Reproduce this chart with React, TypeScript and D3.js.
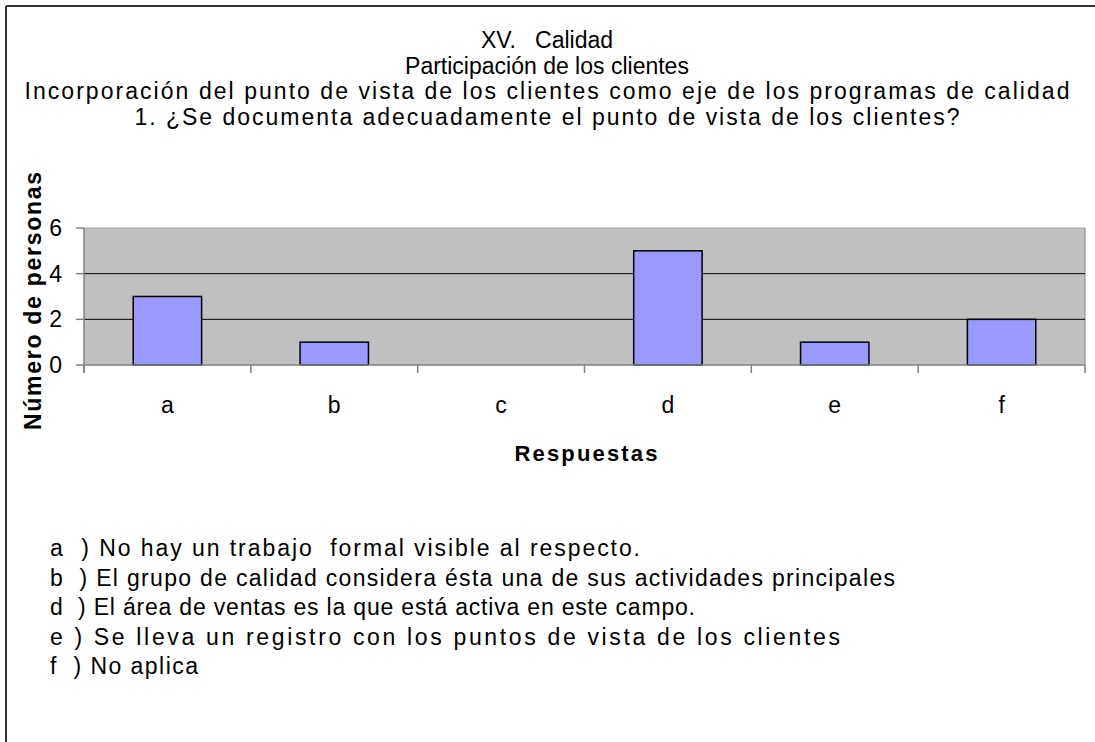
import React, { useRef, useEffect } from "react";
import * as d3 from "d3";

// respuestas y numero de personas
const categories = ["a", "b", "c", "d", "e", "f"];
const values = [3, 1, 0, 5, 1, 2];
const yTicks = [0, 2, 4, 6];

const titleLines = [
  "XV.   Calidad",
  "Participación de los clientes",
  "Incorporación del punto de vista de los clientes como eje de los programas de calidad",
  "1. ¿Se documenta adecuadamente el punto de vista de los clientes?",
];

const legendLines = [
  "a  ) No hay un trabajo  formal visible al respecto.",
  "b  ) El grupo de calidad considera ésta una de sus actividades principales",
  "d  ) El área de ventas es la que está activa en este campo.",
  "e ) Se lleva un registro con los puntos de vista de los clientes",
  "f  ) No aplica",
];

// rendered widths of the long text lines (the original font runs wide)
const titleWidths = [null, null, 1045, 825];
const legendWidths = [590, 845, 645, 790, 148];

const W = 1095;
const H = 742;
const FONT = "'Liberation Sans', Arial, sans-serif";

const App = () => {
  const ref = useRef<SVGSVGElement>(null);

  useEffect(() => {
    const svg = d3.select(ref.current);
    svg.selectAll("*").remove();

    const plot = { left: 84, right: 1085, top: 228, bottom: 365 };

    const x = d3.scaleBand().domain(categories).range([plot.left, plot.right]).padding(0);
    const y = d3.scaleLinear().domain([0, 6]).range([plot.bottom, plot.top]);

    // outer frame (top + left only visible)
    svg.append("line").attr("x1", 6).attr("x2", W).attr("y1", 6).attr("y2", 6)
      .attr("stroke", "#333").attr("stroke-width", 2);
    svg.append("line").attr("x1", 6).attr("x2", 6).attr("y1", 6).attr("y2", H)
      .attr("stroke", "#333").attr("stroke-width", 2);

    // titles
    svg.selectAll("text.title")
      .data(titleLines)
      .enter()
      .append("text")
      .attr("class", "title")
      .attr("x", 547)
      .attr("y", (d, i) => 48 + i * 25.7)
      .attr("text-anchor", "middle")
      .attr("font-family", FONT)
      .attr("font-size", 23)
      .attr("textLength", (d, i) => titleWidths[i])
      .attr("lengthAdjust", "spacing")
      .style("white-space", "pre")
      .text(d => d);

    // plot background
    svg.append("rect")
      .attr("x", plot.left).attr("y", plot.top)
      .attr("width", plot.right - plot.left).attr("height", plot.bottom - plot.top)
      .attr("fill", "#c0c0c0");
    svg.append("line")
      .attr("x1", plot.right).attr("x2", plot.right).attr("y1", plot.top).attr("y2", plot.bottom)
      .attr("stroke", "#808080").attr("stroke-width", 1);
    svg.append("line")
      .attr("x1", plot.left).attr("x2", plot.right).attr("y1", plot.top).attr("y2", plot.top)
      .attr("stroke", "#a0a0a0").attr("stroke-width", 1);

    // gridlines
    svg.selectAll("line.grid")
      .data(yTicks.filter(t => t > 0 && t < 6))
      .enter()
      .append("line")
      .attr("class", "grid")
      .attr("x1", plot.left).attr("x2", plot.right)
      .attr("y1", d => y(d)).attr("y2", d => y(d))
      .attr("stroke", "#000").attr("stroke-width", 1);

    // bars
    const bw = x.bandwidth() * 0.41;
    svg.selectAll("rect.bar")
      .data(values)
      .enter()
      .append("rect")
      .attr("class", "bar")
      .attr("x", (d, i) => (x(categories[i]) as number) + x.bandwidth() / 2 - bw / 2)
      .attr("y", d => y(d))
      .attr("width", bw)
      .attr("height", d => plot.bottom - y(d))
      .attr("fill", "#9999ff")
      .attr("stroke", "#000")
      .attr("stroke-width", 1.5)
      .style("display", d => (d > 0 ? null : "none"));

    // x axis
    const xAxis = svg.append("g").attr("stroke", "#808080").attr("stroke-width", 1.5);
    xAxis.append("line").attr("x1", plot.left).attr("x2", plot.right)
      .attr("y1", plot.bottom).attr("y2", plot.bottom);
    const xTickPos = categories.map(c => x(c) as number).concat([plot.right]);
    xAxis.selectAll("line.xt")
      .data(xTickPos)
      .enter()
      .append("line")
      .attr("class", "xt")
      .attr("x1", d => d).attr("x2", d => d)
      .attr("y1", plot.bottom).attr("y2", plot.bottom + 8);

    // y axis
    const yAxis = svg.append("g").attr("stroke", "#808080").attr("stroke-width", 1.5);
    yAxis.append("line").attr("x1", plot.left).attr("x2", plot.left)
      .attr("y1", plot.top).attr("y2", plot.bottom + 8);
    yAxis.selectAll("line.yt")
      .data(yTicks)
      .enter()
      .append("line")
      .attr("class", "yt")
      .attr("x1", plot.left - 8).attr("x2", plot.left)
      .attr("y1", d => y(d)).attr("y2", d => y(d));

    svg.selectAll("text.ytl")
      .data(yTicks)
      .enter()
      .append("text")
      .attr("class", "ytl")
      .attr("x", 62)
      .attr("y", d => y(d) + 8)
      .attr("text-anchor", "end")
      .attr("font-family", FONT)
      .attr("font-size", 23)
      .text(d => d);

    svg.selectAll("text.xtl")
      .data(categories)
      .enter()
      .append("text")
      .attr("class", "xtl")
      .attr("x", d => (x(d) as number) + x.bandwidth() / 2)
      .attr("y", 413)
      .attr("text-anchor", "middle")
      .attr("font-family", FONT)
      .attr("font-size", 23)
      .text(d => d);

    // axis titles
    svg.append("text")
      .attr("x", 586)
      .attr("y", 461)
      .attr("text-anchor", "middle")
      .attr("font-family", FONT)
      .attr("font-size", 22)
      .attr("font-weight", "bold")
      .attr("textLength", 143)
      .attr("lengthAdjust", "spacing")
      .text("Respuestas");

    svg.append("text")
      .attr("transform", "translate(41,301) rotate(-90)")
      .attr("text-anchor", "middle")
      .attr("font-family", FONT)
      .attr("font-size", 23)
      .attr("font-weight", "bold")
      .attr("textLength", 258)
      .attr("lengthAdjust", "spacing")
      .text("Número de personas");

    // legend lines
    svg.selectAll("text.leg")
      .data(legendLines)
      .enter()
      .append("text")
      .attr("class", "leg")
      .attr("x", 50)
      .attr("y", (d, i) => 556 + i * 29.5)
      .attr("font-family", FONT)
      .attr("font-size", 23)
      .attr("textLength", (d, i) => legendWidths[i])
      .attr("lengthAdjust", "spacing")
      .style("white-space", "pre")
      .text(d => d);
  }, []);

  return (
    <svg
      ref={ref}
      width={W}
      height={H}
      style={{ position: "absolute", left: 0, top: 0, background: "#fff" }}
    ></svg>
  );
};

export default App;
